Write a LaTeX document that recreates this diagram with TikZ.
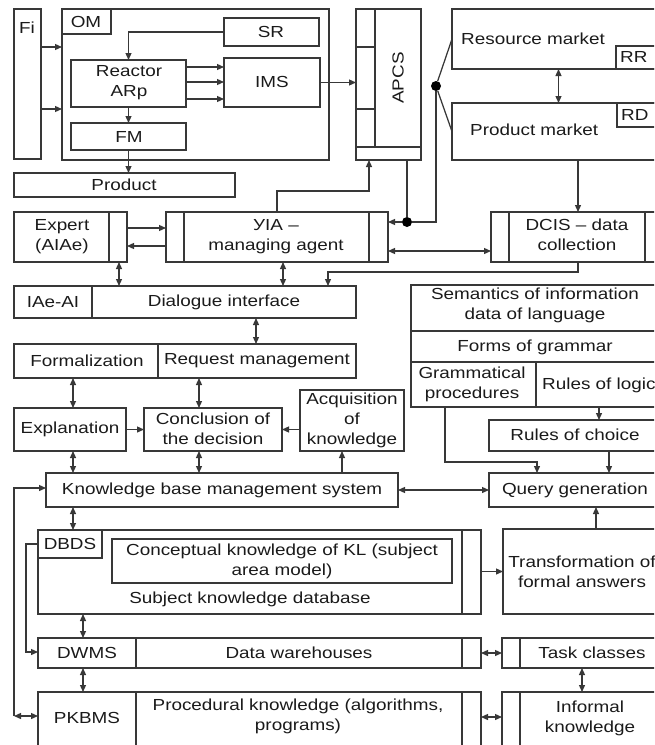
\documentclass[tikz,border=0pt]{standalone}
\usepackage{fontspec}
\setmainfont{Liberation Sans}[FakeStretch=1.18]
\usetikzlibrary{arrows.meta,fit}
\definecolor{ink}{HTML}{383838}
\definecolor{txt}{HTML}{1A1A1A}
\tikzset{
  bx/.style={draw=ink, line width=1.25pt, inner sep=0pt, outer sep=0pt},
  tx/.style={text=txt, font=\fontsize{16}{20}\selectfont, align=center, inner sep=0pt},
  con/.style={draw=ink, line width=1.25pt},
  ar/.style={con, -{Triangle[length=7pt,width=6pt]}},
  dar/.style={con, {Triangle[length=7pt,width=6pt]}-{Triangle[length=7pt,width=6pt]}},
  hubdot/.style={circle, fill=black, inner sep=0pt, minimum size=10pt},
}
\begin{document}
\begin{tikzpicture}[x=1pt, y=-1pt]
\useasboundingbox (0,0) rectangle (654,745);
\clip (0,0) rectangle (654,745);

% ---------- plant block ----------
\node[bx, fit={(14,9) (41,159)}] (fi) {};
\node[bx, fit={(62,9) (329,160)}] (om) {};
\node[bx, fit={(62,9) (111,34)}] (omlab) {};
\node[bx, fit={(224,18) (319,46)}] (sr) {};
\node[bx, fit={(71,60) (186,107)}] (reactor) {};
\node[bx, fit={(224,58) (320,107)}] (ims) {};
\node[bx, fit={(71,123) (186,150)}] (fm) {};
\node[bx, fit={(14,173) (235,197)}] (product) {};

\node[tx] (tfi) at (27,28) {Fi};
\node[tx] (tom) at (86,22) {OM};
\node[tx] (tsr) at (271,32) {SR};
\node[tx] (treac) at (129,83) {Reactor\\ARp};
\node[tx] (tims) at (272,82) {IMS};
\node[tx] (tfm) at (129,137) {FM};
\node[tx] (tprod) at (124,185) {Product};

% ---------- APCS ----------
\node[bx, fit={(356,9) (421,160)}] (apcs) {};
\draw[con] (apcs.north west -| 375,0) -- (375,147);
\draw[con] (apcs.west |- 0,147) -- (apcs.east |- 0,147);
\draw[con] (apcs.west |- 0,47) -- (375,47);
\draw[con] (apcs.west |- 0,109) -- (375,109);
\node[tx, rotate=90] (tapcs) at (398,78) {APCS};

% ---------- markets ----------
\node[bx, fit={(452,9) (665,69)}] (resm) {};
\node[bx, fit={(616,46) (665,69)}] (rr) {};
\node[bx, fit={(452,103) (665,160)}] (prodm) {};
\node[bx, fit={(617,103) (665,127)}] (rd) {};
\node[tx, anchor=west] (tresm) at (461,39) {Resource market};
\node[tx, anchor=west] (tprodm) at (470,130) {Product market};
\node[tx, anchor=west] (trr) at (620,57) {RR};
\node[tx, anchor=west] (trd) at (621,115) {RD};

% ---------- agents ----------
\node[bx, fit={(14,212) (127,262)}] (expert) {};
\draw[con] (expert.north -| 109,0) -- (expert.south -| 109,0);
\node[bx, fit={(166,212) (388,262)}] (agent) {};
\draw[con] (agent.north -| 184,0) -- (agent.south -| 184,0);
\draw[con] (agent.north -| 369,0) -- (agent.south -| 369,0);
\node[bx, fit={(491,212) (665,262)}] (dcis) {};
\draw[con] (dcis.north -| 509,0) -- (dcis.south -| 509,0);
\draw[con] (dcis.north -| 645,0) -- (dcis.south -| 645,0);
\node[tx] (texp) at (62,237) {Expert\\(AIAe)};
\node[tx] (tagent) at (276,237) {УIA –\\managing agent};
\node[tx] (tdcis) at (577,235) {DCIS – data\\collection};

% ---------- dialogue ----------
\node[bx, fit={(14,286) (356,318)}] (dialog) {};
\draw[con] (dialog.north -| 92,0) -- (dialog.south -| 92,0);
\node[tx] (tiae) at (53,302) {IAe-AI};
\node[tx] (tdialog) at (224,302) {Dialogue interface};

\node[bx, fit={(14,344) (356,378)}] (formreq) {};
\draw[con] (formreq.north -| 158,0) -- (formreq.south -| 158,0);
\node[tx] (tform) at (87,361) {Formalization};
\node[tx] (treq) at (257,361) {Request management};

\node[bx, fit={(14,408) (126,451)}] (expl) {};
\node[bx, fit={(144,408) (282,451)}] (concl) {};
\node[bx, fit={(300,390) (404,451)}] (acq) {};
\node[tx] (texpl) at (70,429) {Explanation};
\node[tx] (tconcl) at (213,429) {Conclusion of\\the decision};
\node[tx] (tacq) at (352,420) {Acquisition\\of\\knowledge};

% ---------- language block ----------
\node[bx, fit={(411,285) (665,407)}] (semantics) {};
\draw[con] (semantics.west |- 0,331) -- (semantics.east |- 0,331);
\draw[con] (semantics.west |- 0,362) -- (semantics.east |- 0,362);
\draw[con] (536,362) -- (semantics.south -| 536,0);
\node[tx] (tsem) at (535,305) {Semantics of information\\data of language};
\node[tx] (tforms) at (535,347) {Forms of grammar};
\node[tx] (tgram) at (472,384) {Grammatical\\procedures};
\node[tx, anchor=west] (tlogic) at (542,385) {Rules of logic};

\node[bx, fit={(489,420) (665,451)}] (choice) {};
\node[tx] (tchoice) at (575,435) {Rules of choice};

% ---------- knowledge base ----------
\node[bx, fit={(46,473) (398,507)}] (kbms) {};
\node[tx] (tkbms) at (222,490) {Knowledge base management system};
\node[bx, fit={(489,473) (665,507)}] (query) {};
\node[tx] (tquery) at (575,490) {Query generation};

\node[bx, fit={(38,530) (481,614)}] (dbds) {};
\draw[con] (dbds.north -| 462,0) -- (dbds.south -| 462,0);
\node[bx, fit={(38,530) (102,558)}] (dbdslab) {};
\node[tx] (tdbds) at (70,544) {DBDS};
\node[bx, fit={(112,539) (452,583)}] (concept) {};
\node[tx] (tconcept) at (282,561) {Conceptual knowledge of KL (subject\\area model)};
\node[tx] (tsubj) at (250,599) {Subject knowledge database};

\node[bx, fit={(503,529) (665,614)}] (transf) {};
\node[tx] (ttransf) at (582,572) {Transformation of\\formal answers};

\node[bx, fit={(38,638) (481,668)}] (dwms) {};
\draw[con] (dwms.north -| 136,0) -- (dwms.south -| 136,0);
\draw[con] (dwms.north -| 462,0) -- (dwms.south -| 462,0);
\node[tx] (tdwms) at (87,653) {DWMS};
\node[tx] (tware) at (299,653) {Data warehouses};

\node[bx, fit={(502,638) (665,668)}] (task) {};
\draw[con] (task.north -| 520,0) -- (task.south -| 520,0);
\node[tx] (ttask) at (592,653) {Task classes};

\node[bx, fit={(38,692) (481,760)}] (pkbms) {};
\draw[con] (pkbms.north -| 136,0) -- (pkbms.south -| 136,0);
\draw[con] (pkbms.north -| 462,0) -- (pkbms.south -| 462,0);
\node[tx] (tpkbms) at (87,718) {PKBMS};
\node[tx] (tproc) at (298,716) {Procedural knowledge (algorithms,\\programs)};

\node[bx, fit={(502,692) (665,760)}] (informal) {};
\draw[con] (informal.north -| 520,0) -- (informal.south -| 520,0);
\node[tx] (tinf) at (590,718) {Informal\\knowledge};

% ---------- connectors: plant ----------
\draw[ar] (fi.east |- 0,47) -- (om.west |- 0,47);
\draw[ar] (fi.east |- 0,109) -- (om.west |- 0,109);
\draw[ar] (sr.west) -| (reactor.north);
\foreach \yy in {67,82,99}
  \draw[ar] (reactor.east |- 0,\yy) -- (ims.west |- 0,\yy);
\draw[ar] (reactor.south) -- (fm.north);
\draw[ar] (fm.south) -- (product.north -| fm.south);
\draw[ar] (ims.east) -- (apcs.west |- ims.east);

% ---------- connectors: markets and agents ----------
\node[hubdot] (hub) at (436,86) {};
\node[hubdot] (hub2) at (407,222) {};
\draw[con] (hub) -- (resm.west);
\draw[con] (hub) -- (prodm.west);
\draw[dar] (resm.south) -- (prodm.north -| resm.south);
\draw[con] (hub) |- (hub2);
\draw[con] (apcs.south -| hub2) -- (hub2);
\draw[ar] (hub2) -- (agent.east |- hub2);
\draw[ar] (agent.north) -- (agent.north |- 0,191) -| (apcs.south -| 369,0);
\draw[ar] (prodm.south -| dcis.north) -- (dcis.north);
\draw[ar] (expert.east |- 0,228) -- (agent.west |- 0,228);
\draw[ar] (agent.west |- 0,246) -- (expert.east |- 0,246);
\draw[dar] (agent.east |- 0,251) -- (dcis.west |- 0,251);
\draw[ar] (dcis.south) -- (dcis.south |- 0,272) -| (dialog.north -| 328,0);
\draw[dar] (expert.south -| 119,0) -- (dialog.north -| 119,0);
\draw[dar] (agent.south -| 283,0) -- (dialog.north -| 283,0);

% ---------- connectors: dialogue and reasoning ----------
\draw[dar] (dialog.south -| 256,0) -- (formreq.north -| 256,0);
\draw[dar] (formreq.south -| 73,0) -- (expl.north -| 73,0);
\draw[dar] (formreq.south -| 199,0) -- (concl.north -| 199,0);
\draw[ar] (expl.east) -- (concl.west |- expl.east);
\draw[ar] (acq.west |- concl.east) -- (concl.east);
\draw[dar] (expl.south -| 73,0) -- (kbms.north -| 73,0);
\draw[dar] (concl.south -| 199,0) -- (kbms.north -| 199,0);
\draw[ar] (kbms.north -| 342,0) -- (acq.south -| 342,0);
\draw[dar] (kbms.east) -- (query.west);

% ---------- connectors: language block ----------
\draw[ar] (semantics.south -| 445,0) -- (445,462) -| (query.north -| 537,0);
\draw[ar] (semantics.south -| 599,0) -- (choice.north -| 599,0);
\draw[ar] (choice.south -| 609,0) -- (query.north -| 609,0);

% ---------- connectors: storage ----------
\draw[dar] (kbms.south -| 73,0) -- (dbds.north -| 73,0);
\draw[ar] (dbds.east |- transf.west) -- (transf.west);
\draw[ar] (transf.north -| 596,0) -- (query.south -| 596,0);
\draw[dar] (dbds.south -| 83,0) -- (dwms.north -| 83,0);
\draw[dar] (dwms.south -| 83,0) -- (pkbms.north -| 83,0);
\draw[ar] (dbdslab.west) -- (26,544) |- (dwms.west |- 0,652);
\draw[dar] (dwms.east |- 0,653) -- (task.west |- 0,653);
\draw[dar] (pkbms.east |- 0,717) -- (informal.west |- 0,717);
\draw[dar] (task.south -| 582,0) -- (informal.north -| 582,0);
\coordinate (lc) at (14,716);
\draw[ar] (lc) |- (kbms.west |- 0,488);
\draw[dar] (lc) -- (pkbms.west |- lc);
\end{tikzpicture}
\end{document}
